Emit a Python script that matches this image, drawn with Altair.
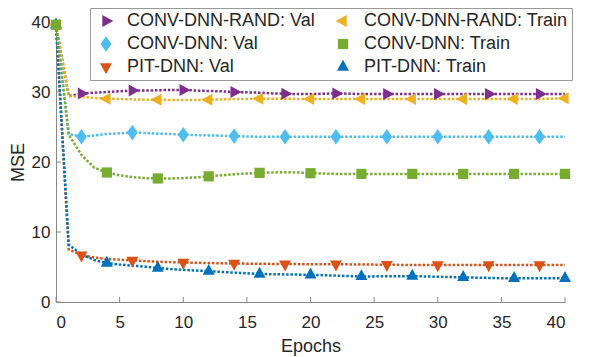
import altair as alt
import pandas as pd

epochs = list(range(0, 41))

# legend order (column-major in Vega): first column = Val, second column = Train
series = [
    "CONV-DNN-RAND: Val",
    "CONV-DNN: Val",
    "PIT-DNN: Val",
    "CONV-DNN-RAND: Train",
    "CONV-DNN: Train",
    "PIT-DNN: Train",
]
colors = ["#7E2F8E", "#4DBEEE", "#D95319", "#EDB120", "#77AC30", "#0072BD"]
shapes = [
    "M-0.61,-1L-0.61,1L1.22,0Z",           # triangle right
    "M0,-1.3L0.9,0L0,1.3L-0.9,0Z",         # diamond
    "M-1,-0.61L1,-0.61L0,1.22Z",           # triangle down
    "M0.61,-1L0.61,1L-1.22,0Z",            # triangle left
    "M-0.85,-0.85L0.85,-0.85L0.85,0.85L-0.85,0.85Z",  # square
    "M-1,0.61L1,0.61L0,-1.22Z",            # triangle up
]

rand_val = [39.6, 29.4, 29.8, 29.9, 30.0, 30.1, 30.2, 30.2, 30.25, 30.3, 30.3,
            30.2, 30.15, 30.1, 30.0, 29.95, 29.9, 29.8, 29.75, 29.7, 29.7,
            29.75, 29.8, 29.75, 29.7, 29.7, 29.7, 29.7, 29.7, 29.7, 29.7,
            29.7, 29.7, 29.7, 29.7, 29.7, 29.7, 29.7, 29.7, 29.7, 29.7]
rand_train = [39.6, 29.4, 29.3, 29.15, 29.05, 29.0, 28.95, 28.9, 28.9, 28.85, 28.85,
              28.85, 28.9, 28.95, 29.0, 29.0, 29.05, 29.05, 29.05, 29.0, 29.0,
              29.0, 29.0, 29.0, 29.0, 29.0, 29.0, 29.0, 29.0, 29.0, 29.0,
              29.0, 29.0, 29.0, 29.0, 29.0, 29.0, 29.0, 29.0, 29.05, 29.1]
conv_val = [39.6, 24.0, 23.6, 23.8, 24.0, 24.1, 24.2, 24.15, 24.05, 24.0, 23.9,
            23.85, 23.8, 23.75, 23.7, 23.65, 23.6, 23.6, 23.6, 23.6, 23.6,
            23.6, 23.6, 23.6, 23.6, 23.6, 23.6, 23.6, 23.6, 23.6, 23.6,
            23.6, 23.6, 23.6, 23.6, 23.6, 23.6, 23.6, 23.6, 23.6, 23.6]
conv_train = [39.6, 23.9, 21.0, 19.2, 18.5, 18.1, 17.85, 17.7, 17.65, 17.65, 17.7,
              17.8, 17.95, 18.1, 18.25, 18.35, 18.45, 18.5, 18.55, 18.5, 18.4,
              18.35, 18.3, 18.3, 18.3, 18.3, 18.3, 18.3, 18.3, 18.3, 18.3,
              18.3, 18.3, 18.3, 18.3, 18.3, 18.3, 18.3, 18.3, 18.3, 18.3]
pit_val = [39.6, 7.5, 6.7, 6.35, 6.15, 6.05, 5.95, 5.85, 5.75, 5.7, 5.65,
           5.6, 5.57, 5.53, 5.5, 5.48, 5.46, 5.44, 5.42, 5.41, 5.4,
           5.4, 5.4, 5.38, 5.36, 5.34, 5.32, 5.3, 5.3, 5.3, 5.3,
           5.3, 5.3, 5.3, 5.3, 5.3, 5.3, 5.3, 5.3, 5.3, 5.3]
pit_train = [39.6, 8.2, 6.8, 6.0, 5.55, 5.35, 5.2, 5.05, 4.85, 4.7, 4.6,
             4.5, 4.4, 4.3, 4.2, 4.1, 4.0, 3.97, 3.94, 3.91, 3.89,
             3.83, 3.77, 3.71, 3.65, 3.66, 3.68, 3.69, 3.7, 3.65, 3.6,
             3.56, 3.52, 3.48, 3.44, 3.4, 3.38, 3.38, 3.38, 3.38, 3.38]

val_marker_epochs = list(range(2, 41, 4))
train_marker_epochs = list(range(0, 41, 4))

x_ticks = [0, 5, 10, 15, 20, 25, 30, 35, 40]
y_ticks = [0, 10, 20, 30, 40]

values = {
    "CONV-DNN-RAND: Val": rand_val,
    "CONV-DNN-RAND: Train": rand_train,
    "CONV-DNN: Val": conv_val,
    "CONV-DNN: Train": conv_train,
    "PIT-DNN: Val": pit_val,
    "PIT-DNN: Train": pit_train,
}
draw_order = ["CONV-DNN-RAND: Val", "CONV-DNN-RAND: Train", "CONV-DNN: Val",
              "PIT-DNN: Val", "PIT-DNN: Train", "CONV-DNN: Train"]

rows = []
for s in draw_order:
    marks = val_marker_epochs if s.endswith("Val") else train_marker_epochs
    for e, v in zip(epochs, values[s]):
        rows.append({"series": s, "epoch": e, "mse": v, "marker": e in marks})
df = pd.DataFrame(rows)

axis_gray = "#888888"
text_col = "#262626"
W, H = 509, 280

xscale = alt.Scale(domain=[0, 40], nice=False)
yscale = alt.Scale(domain=[0, 40], nice=False)
cscale = alt.Scale(domain=series, range=colors)
sscale = alt.Scale(domain=series, range=shapes)

xaxis = alt.Axis(values=x_ticks, ticks=False, grid=False, domainColor=axis_gray,
                 labelFontSize=17, labelColor=text_col, labelPadding=12,
                 title="Epochs", titleFontSize=18, titleFontWeight="normal",
                 titleColor=text_col, titleY=35, titleBaseline="top")
yaxis = alt.Axis(values=y_ticks, ticks=False, grid=False, domainColor=axis_gray,
                 labelFontSize=17, labelColor=text_col, labelPadding=6,
                 title="MSE", titleFontSize=18, titleFontWeight="normal",
                 titleColor=text_col, titleX=-38, titleY=H / 2,
                 titleAngle=-90, titleAlign="center", titleBaseline="middle")

legend = alt.Legend(title=None, orient="none", legendX=34, legendY=-14,
                    columns=2, columnPadding=16, rowPadding=5,
                    padding=4, symbolOffset=3, labelOffset=12,
                    symbolSize=144, symbolStrokeWidth=0,
                    labelFontSize=18, labelColor=text_col,
                    labelLimit=400, strokeColor="#999999",
                    fillColor="white")

base = alt.Chart(df)

points = base.transform_filter(alt.datum.marker).mark_point(
    filled=True, opacity=1, size=144, strokeWidth=0
).encode(
    x=alt.X("epoch:Q", scale=xscale, axis=xaxis),
    y=alt.Y("mse:Q", scale=yscale, axis=yaxis),
    color=alt.Color("series:N", scale=cscale, sort=series, legend=legend),
    shape=alt.Shape("series:N", scale=sscale, sort=series, legend=legend),
)

lines = base.mark_line(strokeDash=[2.5, 1.8], strokeWidth=2.5).encode(
    x=alt.X("epoch:Q", scale=xscale),
    y=alt.Y("mse:Q", scale=yscale),
    stroke=alt.Stroke("series:N", scale=cscale, sort=series, legend=None),
    detail="series:N",
)

xt = alt.Chart(pd.DataFrame({"t": x_ticks})).mark_rule(color=axis_gray, strokeWidth=1).encode(
    x=alt.X("t:Q", scale=xscale), y=alt.value(H), y2=alt.value(H - 5)
)
yt = alt.Chart(pd.DataFrame({"t": y_ticks})).mark_rule(color=axis_gray, strokeWidth=1).encode(
    y=alt.Y("t:Q", scale=yscale), x=alt.value(0), x2=alt.value(5)
)

chart = alt.layer(xt, yt, lines, points).resolve_scale(stroke="independent").properties(
    width=W, height=H,
    autosize=alt.AutoSizeParams(type="none"),
    padding={"left": 48, "top": 14, "right": 25, "bottom": 55},
).configure(font="Liberation Sans").configure_view(stroke=None)

chart.save("out.html", embed_options={"renderer": "svg", "actions": False})
